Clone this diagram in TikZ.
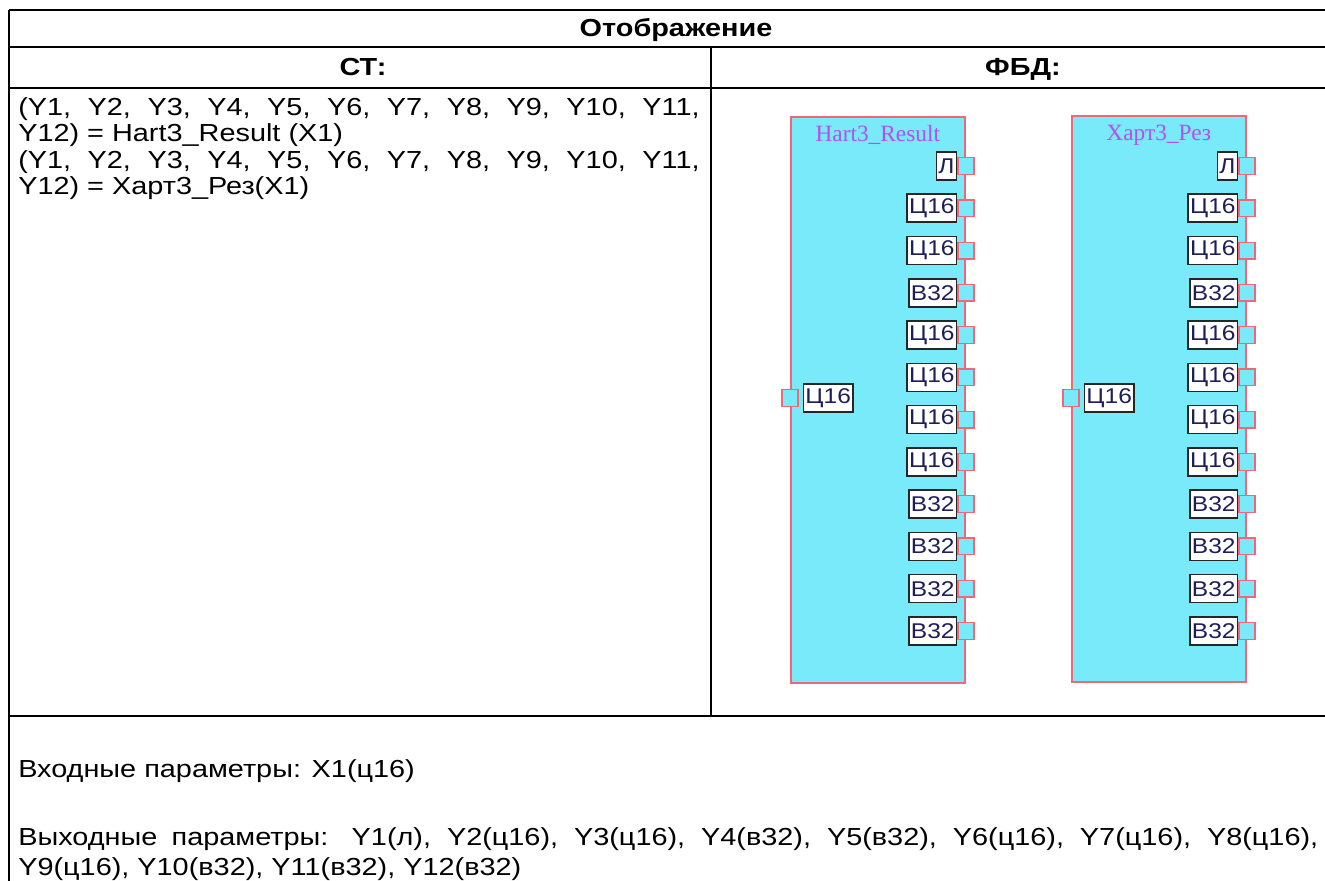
\documentclass[tikz,border=0pt]{standalone}
\usepackage{fontspec}
\setmainfont{Liberation Sans}[FakeStretch=1.17]
\newfontfamily\typefont{Liberation Sans}[FakeStretch=1.15]
\newfontfamily\blockfont{Liberation Serif}
\usetikzlibrary{positioning}

\definecolor{blockfill}{HTML}{78EAFA}
\definecolor{blockedge}{HTML}{F06878}
\definecolor{titleink}{HTML}{B450F0}
\definecolor{typeink}{HTML}{1E1E5A}
\newcommand\bodysize{\fontsize{18.5}{22}\selectfont}
\newcommand\typesize{\typefont\fontsize{16}{18}\selectfont}

\begin{document}
\begin{tikzpicture}[x=0.75pt, y=-0.75pt,
        rule/.style = {line width=1.5pt},
        bodytext/.style = {anchor=base west, inner sep=0pt, font=\bodysize},
        headtext/.style = {anchor=base, inner sep=0pt, font=\bodysize\bfseries},
        fbdblock/.style = {rectangle, draw=blockedge, line width=1.2pt, fill=blockfill, anchor=north west, inner sep=0pt, minimum width=130.5pt, minimum height=424.5pt},
        blocktitle/.style = {anchor=north, inner sep=0pt, text=titleink, font=\blockfont\fontsize{17.5}{20}\selectfont},
        port/.style = {rectangle, draw=blockedge, line width=1pt, fill=blockfill, minimum width=12pt, minimum height=12.5pt, inner sep=0pt},
        typebox/.style = {rectangle, draw=black!85, line width=1.2pt, fill=white, text=typeink, font=\typesize, inner xsep=1.5pt, inner ysep=0pt, minimum height=21pt}
]
        \useasboundingbox (0,0) rectangle (1325,881);

        % table
        \draw[rule] (9,10) -- (1325,10);
        \draw[rule] (9,47) -- (1325,47);
        \draw[rule] (9,88) -- (1325,88);
        \draw[rule] (9,716) -- (1325,716);
        \draw[rule] (9,10) -- (9,881);
        \draw[rule] (711,47) -- (711,716);

        \node[headtext] (maphead) at (676,37) {Отображение};
        \node[headtext] (sthead) at (363,76) {СТ:};
        \node[headtext] (fbdhead) at (1023,76) {ФБД:};

        % ST text
        \node[bodytext] (st1) at (18,116) {\makebox[511pt][s]{(Y1, Y2, Y3, Y4, Y5, Y6, Y7, Y8, Y9, Y10, Y11,}};
        \node[bodytext] (st2) at (18,142) {Y12) = Hart3\_Result (X1)};
        \node[bodytext] (st3) at (18,168) {\makebox[511pt][s]{(Y1, Y2, Y3, Y4, Y5, Y6, Y7, Y8, Y9, Y10, Y11,}};
        \node[bodytext] (st4) at (18,194) {Y12) = Харт3\_Рез(X1)};

        % FBD blocks
        \node[fbdblock] (hart) at (790,116) {};
        \node[fbdblock] (xapt) at (1071,115) {};
        \node[blocktitle, below=7pt of hart.north] (hart-title) {Hart3\_Result};
        \node[blocktitle, below=7pt of xapt.north] (xapt-title) {Харт3\_Рез};

        \foreach \lbl [count=\i] in {Л,Ц16,Ц16,В32,Ц16,Ц16,Ц16,Ц16,В32,В32,В32,В32} {
                \node[port] (hart-out\i) at (966,123.7+42.27*\i) {};
                \node[typebox, anchor=east] (hart-type\i) at (hart-out\i.west) {\lbl};
                \node[port] (xapt-out\i) at (1247,123.7+42.27*\i) {};
                \node[typebox, anchor=east] (xapt-type\i) at (xapt-out\i.west) {\lbl};
        }

        \node[port] (hart-in) at (790,398) {};
        \node[typebox, anchor=west, xshift=3pt] (hart-intype) at (hart-in.east) {Ц16};
        \node[port] (xapt-in) at (1071,398) {};
        \node[typebox, anchor=west, xshift=3pt] (xapt-intype) at (xapt-in.east) {Ц16};

        % parameters
        \node[bodytext] (inparams) at (18,777) {Входные параметры: X1(ц16)};
        \node[bodytext] (outparams) at (18,845) {\makebox[975pt][s]{Выходные параметры: Y1(л), Y2(ц16), Y3(ц16), Y4(в32), Y5(в32), Y6(ц16), Y7(ц16), Y8(ц16),}};
        \node[bodytext] (outparams2) at (18,875) {Y9(ц16), Y10(в32), Y11(в32), Y12(в32)};
\end{tikzpicture}
\end{document}
